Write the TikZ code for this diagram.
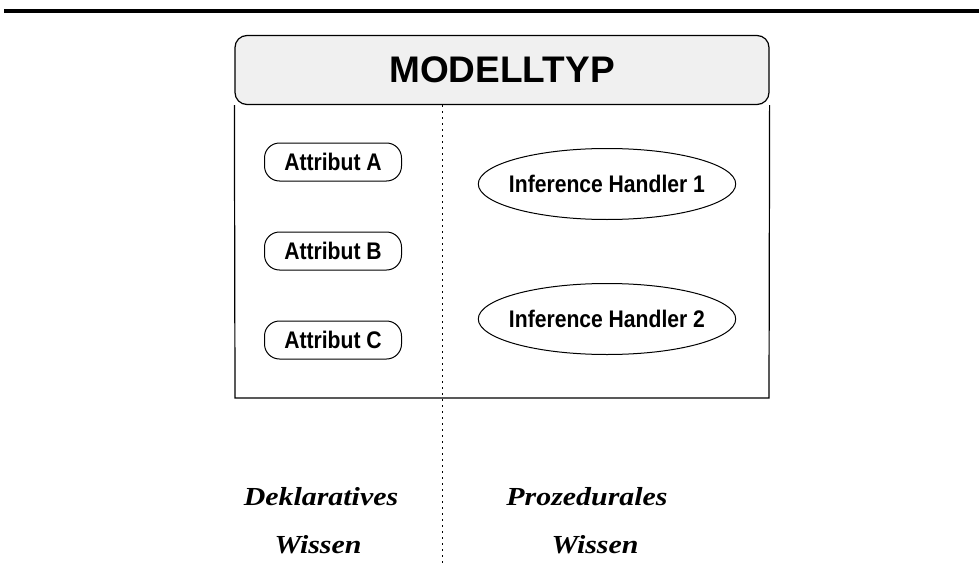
\documentclass[tikz,border=0pt]{standalone}
\usepackage{fontspec}
\setmainfont{Liberation Serif}
\newfontfamily\headfont{Liberation Sans}
\newfontfamily\narrowfont[FakeStretch=0.88]{Liberation Sans}
\newfontfamily\wissenfont[FakeStretch=1.15]{Liberation Serif}
\usetikzlibrary{positioning, shapes}

\tikzstyle{model-head} = [rectangle, rounded corners=12pt, draw, line width=1.2pt, fill=black!6, minimum width=534pt, minimum height=69pt, font=\headfont\bfseries\fontsize{37}{40}\selectfont]
\tikzstyle{attribute} = [rectangle, rounded corners=15pt, draw, line width=1pt, minimum width=137pt, minimum height=38pt, inner sep=0pt, font=\narrowfont\bfseries\fontsize{24}{26}\selectfont]
\tikzstyle{handler} = [ellipse, draw, line width=1pt, minimum height=71pt, inner xsep=-7pt, inner ysep=0pt, font=\narrowfont\bfseries\fontsize{24}{26}\selectfont]
\tikzstyle{knowledge} = [rectangle, draw=none, font=\wissenfont\bfseries\itshape\fontsize{26}{28}\selectfont]
\tikzstyle{divider} = [line width=1pt, dash pattern=on 2pt off 4pt]

\begin{document}
\begin{tikzpicture}[x=1pt, y=-1pt]
    \useasboundingbox (0,0) rectangle (979,567);
    \draw [line width=4pt] (4,11) -- (979,11);

    \node (head) [model-head] at (502,70) {MODELLTYP};
    \draw [line width=1.2pt] (head.south west) -- (235,398) -- (769,398) -- (head.south east);

    \node (attA) [attribute] at (333,162) {Attribut A};
    \node (attB) [attribute, below = 50pt of attA] {Attribut B};
    \node (attC) [attribute, below = 50pt of attB] {Attribut C};

    \node (ih1) [handler] at (607,184) {Inference Handler 1};
    \node (ih2) [handler, below = 63pt of ih1] {Inference Handler 2};

    \coordinate (cut) at (head.south -| 442,0);
    \coordinate (end) at (442,565);
    \draw [divider] (cut) -- (end);

    \node (dekl) [knowledge] at (321,497) {Deklaratives};
    \node (dwis) [knowledge] at (318,545) {Wissen};
    \node (proz) [knowledge] at (587,497) {Prozedurales};
    \node (pwis) [knowledge] at (595,545) {Wissen};
\end{tikzpicture}
\end{document}
